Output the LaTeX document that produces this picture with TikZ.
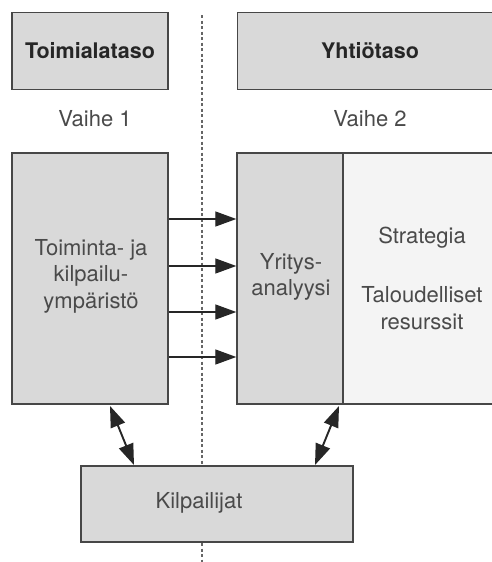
\documentclass[tikz,border=0pt]{standalone}
\usepackage{fontspec}
\setmainfont{TeX Gyre Heros}
\usetikzlibrary{arrows.meta}
\definecolor{boxfill}{HTML}{D9D9D9}
\definecolor{palefill}{HTML}{F4F4F4}
\definecolor{edge}{HTML}{474747}
\definecolor{txt}{HTML}{4A4A4A}
\begin{document}
\begin{tikzpicture}[x=1pt,y=-1pt,
  panel/.style={draw=edge,line width=1.4pt,fill=boxfill},
  label/.style={text=txt,font=\fontsize{22}{26.5}\selectfont,align=center,inner sep=0pt},
  head/.style={text=black!85,font=\fontsize{21.5}{26.5}\selectfont\bfseries,inner sep=0pt},
  flow/.style={draw=black!85,line width=1.3pt,-{Triangle[length=21pt,width=15pt]}},
  link/.style={draw=black!85,line width=1.9pt,{Triangle[length=21pt,width=15pt]}-{Triangle[length=21pt,width=15pt]}}]
\useasboundingbox[fill=white] (0,0) rectangle (491,562);

% phase divider
\draw[black!60,line width=1.8pt,dash pattern=on 3pt off 2.5pt] (202,15) -- (202,562);

% level headers
\node[panel,minimum width=156pt,minimum height=77pt] (lvl1) at (90,51) {};
\node[head] at (lvl1) {Toimialataso};
\node[panel,minimum width=260pt,minimum height=77pt,anchor=west] (lvl2) at (237,51) {};
\node[head] at (370,51) {Yhtiötaso};

\node[label] (ph1) at (95,119) {Vaihe 1};
\node[label] (ph2) at (370,119) {Vaihe 2};

% main boxes
\node[panel,minimum width=156pt,minimum height=251pt] (env) at (90,278.5) {};
\node[label] at (91,276) {Toiminta- ja\\kilpailu-\\ympäristö};
\node[panel,minimum width=106pt,minimum height=251pt] (ana) at (290,278.5) {};
\node[label] at (291,277) {Yritys-\\analyysi};
\node[draw=edge,line width=1.4pt,fill=palefill,minimum width=160pt,minimum height=251pt,anchor=west] (res) at (343,278.5) {};
\node[label] (str) at (422,238) {Strategia};
\node[label] (fin) at (422,308) {Taloudelliset\\resurssit};

% competitors
\node[panel,minimum width=272pt,minimum height=76pt] (comp) at (217,504) {};
\node[label] at (199,503) {Kilpailijat};

% flows from environment to analysis
\foreach \yy in {219,266,312,357}
  \draw[flow] (env.east |- 0,\yy) -- (ana.west |- 0,\yy);

% two-way links with competitors
\coordinate (a1) at (110,406);
\coordinate (b1) at (134,465);
\coordinate (a2) at (339,406);
\coordinate (b2) at (315,465);
\draw[link] (a1) -- (b1);
\draw[link] (a2) -- (b2);
\end{tikzpicture}
\end{document}
